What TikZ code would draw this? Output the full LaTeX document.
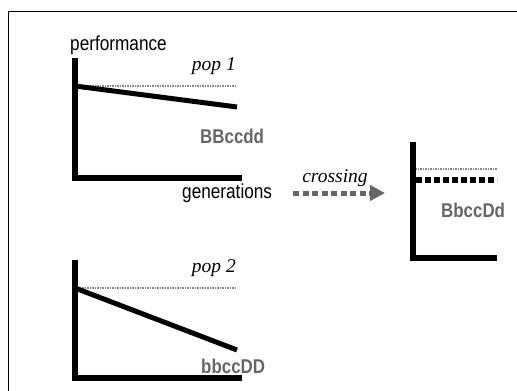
\documentclass[tikz,border=0pt]{standalone}
\usepackage{fontspec}
\setmainfont{Liberation Serif}
\setsansfont{Liberation Sans}
\usetikzlibrary{arrows.meta}
\definecolor{txtgray}{HTML}{666666}
\definecolor{dotgray}{HTML}{888888}
\newcommand{\tallertext}[1]{\scalebox{1}[1.18]{#1}}
\tikzset{
  axisline/.style={line width=6pt, line join=miter, line cap=butt},
  trendline/.style={line width=5pt, line cap=butt},
  refline/.style={dotgray, line width=1.6pt, dash pattern=on 1.5pt off 1pt},
  hybridline/.style={black, line width=5.5pt, dash pattern=on 5.5pt off 3.5pt},
  crossarrow/.style={txtgray, line width=5pt, dash pattern=on 6pt off 3.5pt,
    -{Triangle[length=15pt,width=15pt]}},
  axislabel/.style={inner sep=0pt, font=\sffamily\fontsize{17.2}{20}\selectfont},
  poplabel/.style={inner sep=0pt, font=\itshape\fontsize{19.5}{22}\selectfont},
  genolabel/.style={inner sep=0pt, text=txtgray, font=\sffamily\bfseries\fontsize{16.9}{19}\selectfont},
}
\begin{document}
\begin{tikzpicture}[x=1pt,y=-1pt]
\useasboundingbox (0,0) rectangle (517,391);
\clip (0,0) rectangle (517,391);
% frame
\draw[line width=1pt] (8,11) rectangle (540,420);

% ---- top chart (pop 1)
\coordinate (y1) at (75,58);
\coordinate (o1) at (75,178);
\coordinate (x1) at (242,178);
\coordinate (r1a) at (77,86);
\coordinate (r1b) at (237,86);
\coordinate (t1a) at (75,86);
\coordinate (t1b) at (237,107);
\draw[refline] (r1a) -- (r1b);
\draw[trendline] (t1a) -- (t1b);
\draw[axisline] (y1) -- (o1) -- (x1);
\node[axislabel, anchor=base west] (perf) at (70,50) {\tallertext{performance}};
\node[poplabel, anchor=base east] (pop1) at (236,70) {pop 1};
\node[genolabel, anchor=base west] (g1) at (200,143) {\tallertext{BBccdd}};
\node[axislabel, anchor=base west] (gen) at (182,198) {\tallertext{generations}};

% ---- crossing arrow
\coordinate (ca) at (293,193);
\coordinate (cb) at (385,193);
\draw[crossarrow] (ca) -- (cb);
\node[poplabel, anchor=base] (cross) at (335,182) {crossing};

% ---- right chart (hybrid)
\coordinate (y3) at (413,142);
\coordinate (o3) at (413,258);
\coordinate (x3) at (497,258);
\coordinate (r3a) at (415,169);
\coordinate (r3b) at (497,169);
\coordinate (h3a) at (416,180);
\coordinate (h3b) at (497,180);
\draw[refline] (r3a) -- (r3b);
\draw[hybridline] (h3a) -- (h3b);
\draw[axisline, line width=5.5pt] (y3) -- (o3) -- (x3);
\node[genolabel, anchor=base west] (g3) at (441,217) {\tallertext{BbccDd}};

% ---- bottom chart (pop 2)
\coordinate (y2) at (75,260);
\coordinate (o2) at (75,378);
\coordinate (x2) at (242,378);
\coordinate (r2a) at (77,288);
\coordinate (r2b) at (237,288);
\coordinate (t2a) at (75,288);
\coordinate (t2b) at (237,350);
\draw[refline] (r2a) -- (r2b);
\draw[trendline] (t2a) -- (t2b);
\draw[axisline] (y2) -- (o2) -- (x2);
\node[poplabel, anchor=base east] (pop2) at (236,272) {pop 2};
\node[genolabel, anchor=base west] (g2) at (201,373) {\tallertext{bbccDD}};
\end{tikzpicture}
\end{document}
